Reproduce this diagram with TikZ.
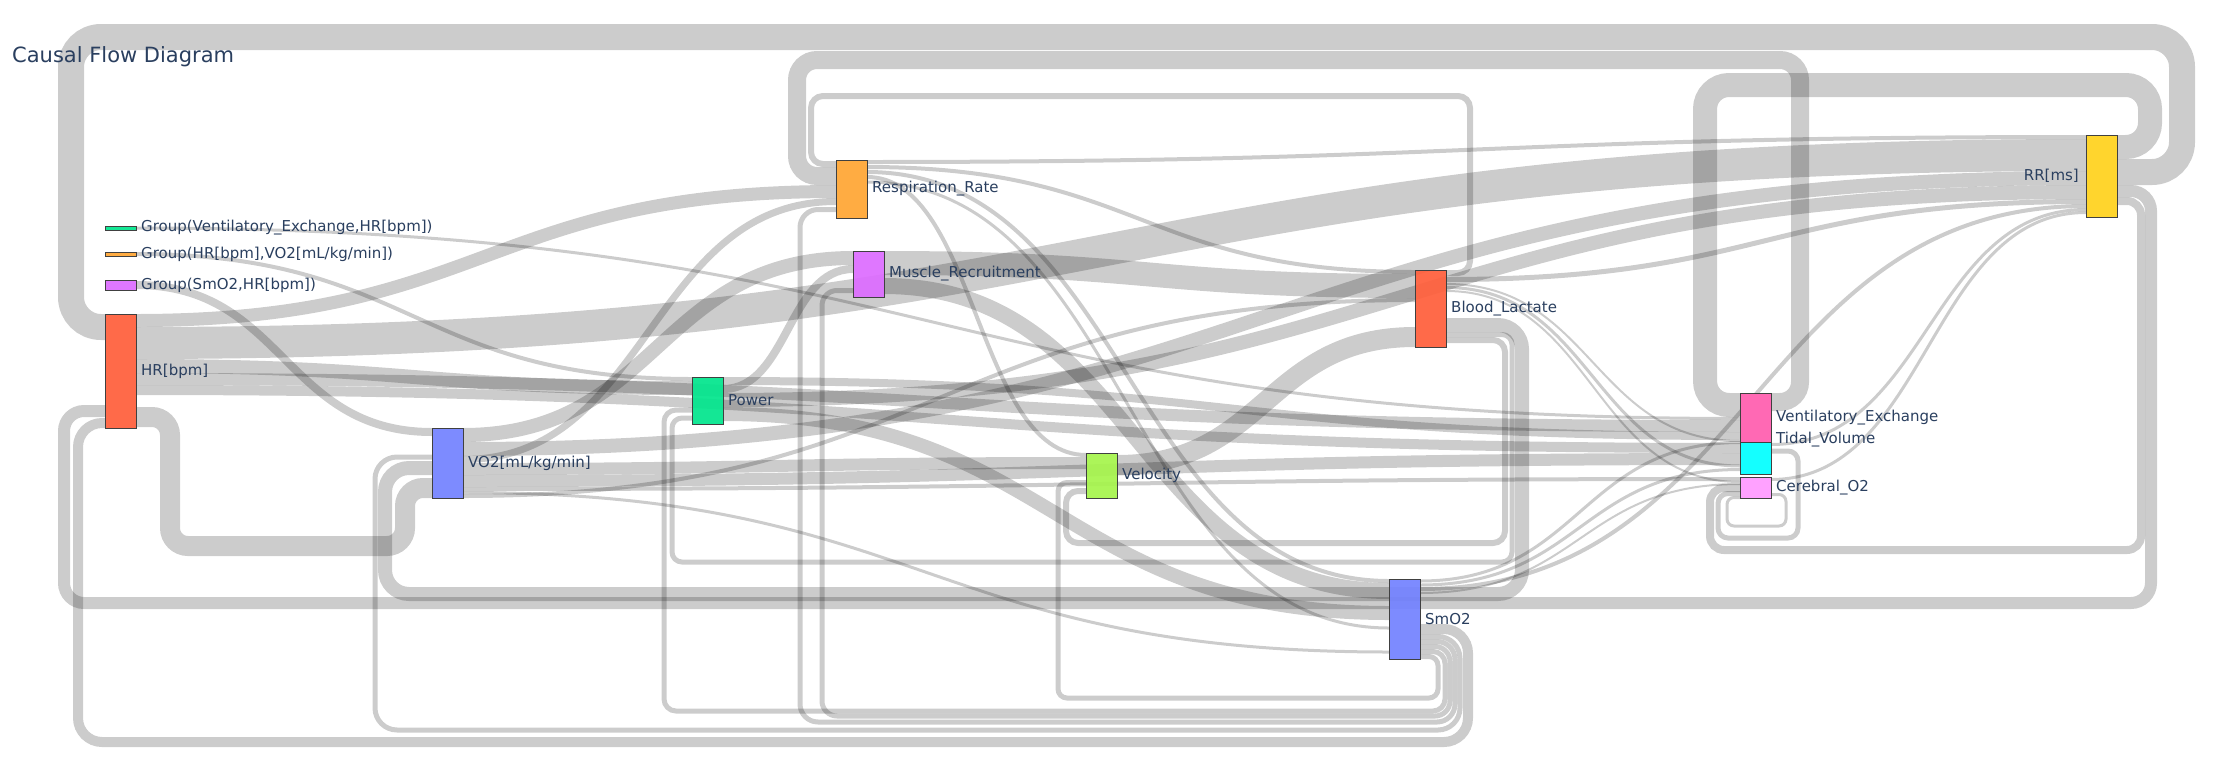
\documentclass[tikz,border=0pt]{standalone}
\usepackage{fontspec}
\setmainfont{DejaVu Sans}
\usepackage{xcolor}
\usetikzlibrary{calc,positioning}
\pgfdeclarelayer{paper}
\pgfdeclarelayer{links}
\pgfsetlayers{paper,links,main}

\definecolor{txt}{RGB}{42,63,95}
\definecolor{tomato}{RGB}{255,94,58}
\definecolor{lav}{RGB}{115,130,255}
\definecolor{mint}{RGB}{0,230,140}
\definecolor{amber}{RGB}{255,165,50}
\definecolor{orchid}{RGB}{221,108,255}
\definecolor{lime}{RGB}{165,245,75}
\definecolor{gold}{RGB}{255,210,28}
\definecolor{hotpink}{RGB}{255,105,180}
\definecolor{aqua}{RGB}{0,255,255}
\definecolor{lilac}{RGB}{255,153,255}

\begin{document}
\begin{tikzpicture}[x=1pt,y=-1pt,
		flow/.style={draw=black,draw opacity=0.2,line width=#1pt},
		box/.style={draw=black!75,line width=0.6pt,inner sep=0pt,outer sep=0pt,minimum width=31pt,anchor=north west,fill opacity=0.92},
		lbl/.style={text=txt,font=\fontsize{15}{18}\selectfont,inner sep=0pt}]
				\begin{pgfonlayer}{paper}
					\fill[white] (0,0) rectangle (2214,764);
				\end{pgfonlayer}
				\useasboundingbox (0,0) rectangle (2214,764);

				%% ========================================================
				\node[box, fill=mint, minimum height=4pt] (gve) at (105,226) {};
				\node[box, fill=amber, minimum height=4pt] (ghv) at (105,252) {};
				\node[box, fill=orchid, minimum height=10pt] (gsh) at (105,280) {};
				\node[box, fill=tomato, minimum height=114pt] (hr) at (105,314) {};
				\node[box, fill=lav, minimum height=70pt] (vo2) at (432,428) {};
				\node[box, fill=mint, minimum height=47pt] (power) at (692,377) {};
				\node[box, fill=amber, minimum height=58pt] (resp) at (836,160) {};
				\node[box, fill=orchid, minimum height=46pt] (muscle) at (853,251) {};
				\node[box, fill=lime, minimum height=45pt] (vel) at (1086,453) {};
				\node[box, fill=tomato, minimum height=77pt] (lac) at (1415,270) {};
				\node[box, fill=lav, minimum height=80pt] (smo2) at (1389,579) {};
				\node[box, fill=gold, minimum height=82pt] (rr) at (2086,135) {};
				\node[box, fill=aqua, minimum height=69pt] (tidal) at (1740,405) {};
				\node[box, fill=hotpink, fill opacity=1, minimum height=49pt] (ve) at (1740,393) {};
				\node[box, fill=lilac, minimum height=21pt] (cereb) at (1740,477) {};

				\node[lbl, right=5pt of gve] {Group(Ventilatory\_Exchange,HR[bpm])};
				\node[lbl, right=5pt of ghv] {Group(HR[bpm],VO2[mL/kg/min])};
				\node[lbl, right=5pt of gsh] {Group(SmO2,HR[bpm])};
				\node[lbl, right=5pt of hr] {HR[bpm]};
				\node[lbl, right=5pt of vo2] {VO2[mL/kg/min]};
				\node[lbl, right=5pt of power] {Power};
				\node[lbl, right=5pt of resp] {Respiration\_Rate};
				\node[lbl, right=5pt of muscle] {Muscle\_Recruitment};
				\node[lbl, right=5pt of vel] {Velocity};
				\node[lbl, right=5pt of lac] {Blood\_Lactate};
				\node[lbl, right=5pt of smo2] {SmO2};
				\node[lbl, left=7pt of rr] {RR[ms]};
				\node[lbl, right=5pt of ve] {Ventilatory\_Exchange};
				\node[lbl, right=5pt of tidal] {Tidal\_Volume};
				\node[lbl, right=5pt of cereb] {Cerebral\_O2};

				\node[anchor=base west, inner sep=0, text=txt, font=\fontsize{21}{25}\selectfont] (title) at (12,62) {Causal Flow Diagram};
				%% ========================================================

				%% ========================================================
				\begin{pgfonlayer}{links}
					\def\flowlink#1#2#3#4#5{%
						\coordinate (s) at ($(#2.north east)+(0,#3)$);
						\coordinate (t) at ($(#4.north west)+(0,#5)$);
						\coordinate (m) at ($(s)!.5!(t)$);
						\draw[flow=#1] (s) .. controls (m |- s) and (m |- t) .. (t);}
					\def\flowloop#1#2#3#4#5#6#7#8#9{%
						\coordinate (s) at ($(#2.north east)+(0,#3)$);
						\coordinate (t) at ($(#4.north west)+(0,#5)$);
						\draw[flow=#1, rounded corners=#9pt] (s) -- (#6,0 |- s) -- (#6,#7) -- (#8,#7) -- (#8,0 |- t) -- (t);}

					% forward links
					\flowlink{13}{hr}{6.5}{resp}{31.5}
					\flowlink{32}{hr}{29}{rr}{20}
					\flowlink{14}{hr}{52}{power}{11}
					\flowlink{12}{hr}{65}{ve}{33}
					\flowlink{10}{hr}{76}{tidal}{43}
					\flowlink{3}{gve}{2}{ve}{25.5}
					\flowlink{4}{ghv}{2}{power}{2}
					\flowlink{8}{gsh}{5}{vo2}{4}
					\flowlink{14}{vo2}{7}{muscle}{7}
					\flowlink{14}{vo2}{21}{rr}{43}
					\flowlink{7}{vo2}{31.5}{resp}{41.5}
					\flowlink{12}{vo2}{41}{vel}{10}
					\flowlink{12}{vo2}{53}{tidal}{54}
					\flowlink{4}{vo2}{61}{cereb}{2}
					\flowlink{3}{vo2}{64.5}{smo2}{73}
					\flowlink{4}{vo2}{68}{lac}{30}
					\flowlink{8}{power}{4}{ve}{43}
					\flowlink{8}{power}{12}{muscle}{18}
					\flowlink{14}{power}{23}{rr}{57}
					\flowlink{14}{power}{37}{smo2}{34}
					\flowlink{24}{muscle}{12}{lac}{16}
					\flowlink{16}{muscle}{35}{smo2}{12}
					\flowlink{4}{resp}{2}{rr}{2}
					\flowlink{4}{resp}{7}{lac}{2}
					\flowlink{4}{resp}{12}{smo2}{2}
					\flowlink{4}{resp}{17}{vel}{2}
					\flowlink{3}{resp}{22}{smo2}{49}
					\flowlink{20}{vel}{12}{lac}{67}
					\flowlink{5}{lac}{9.5}{rr}{66.5}
					\flowlink{2}{lac}{14}{ve}{48}
					\flowlink{3}{lac}{17.5}{tidal}{61}
					\flowlink{2}{lac}{21}{cereb}{5}
					\flowlink{3}{smo2}{2}{ve}{49.5}
					\flowlink{3}{smo2}{6}{tidal}{64.5}
					\flowlink{4}{smo2}{10}{rr}{71}
					\flowlink{2}{smo2}{14}{cereb}{7}
					\flowlink{3}{tidal}{39.5}{rr}{74.5}
					\flowlink{3}{cereb}{2.5}{rr}{77.5}

					% circular links
					\flowloop{24}{rr}{12}{ve}{12}{2150}{85}{1705}{24}
					\flowloop{26}{rr}{37}{hr}{13}{2182}{37}{71}{30}
					\flowloop{12}{rr}{56}{hr}{97}{2151}{603}{64}{20}
					\flowloop{8}{rr}{66}{cereb}{11}{2141}{550}{1710}{14}
					\flowloop{18}{ve}{9}{resp}{16}{1800}{60}{797}{20}
					\flowloop{6}{lac}{3}{resp}{4}{1470}{96}{811}{12}
					\flowloop{20}{hr}{103}{vo2}{60}{170}{546}{405}{18}
					\flowloop{14}{lac}{55}{vo2}{40}{1522}{594}{385}{24}
					\flowloop{5}{lac}{64.5}{power}{41}{1512}{562}{672}{10}
					\flowloop{6}{lac}{70}{vel}{38}{1505}{543}{1066}{12}
					\flowloop{10}{smo2}{50}{hr}{109}{1468}{742}{78}{24}
					\flowloop{5}{smo2}{57.5}{vo2}{29}{1460}{730}{375}{22}
					\flowloop{5}{smo2}{62.5}{resp}{49.5}{1455}{722}{800}{18}
					\flowloop{5}{smo2}{67.5}{muscle}{39.5}{1450}{716}{822}{15}
					\flowloop{5}{smo2}{72.5}{power}{33}{1445}{711}{664}{12}
					\flowloop{5}{smo2}{77.5}{vel}{29.5}{1438}{698}{1058}{9}
					\flowloop{5}{tidal}{46}{cereb}{16.5}{1798}{538}{1718}{10}
					\flowloop{3}{cereb}{17.5}{cereb}{20.5}{1786}{526}{1727}{7}
				\end{pgfonlayer}
				%% ========================================================
\end{tikzpicture}
\end{document}
